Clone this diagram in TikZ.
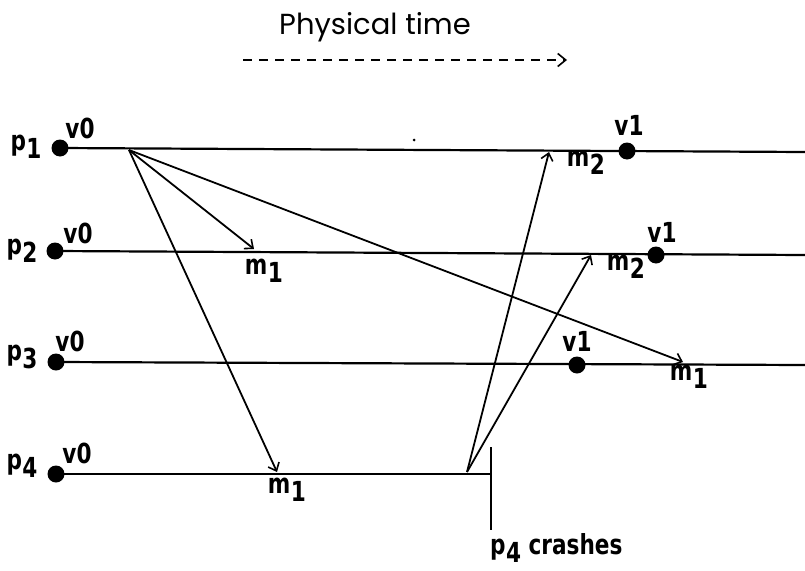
\documentclass[tikz,border=0pt]{standalone}
\usepackage{fontspec}
\usepackage{graphicx}
\setmainfont{DejaVu Sans Condensed}
\newfontfamily\titlefont{Poppins}
\usetikzlibrary{arrows.meta}
\newcommand{\lblsub}[2]{\scalebox{1}[1.15]{#1\kern0.5pt\raisebox{-7pt}{#2}}}
\newcommand{\tallt}[1]{\scalebox{1}[1.15]{#1}}
\begin{document}
\begin{tikzpicture}[x=1pt,y=-1pt,
  proc/.style={line width=2.2pt},
  msg/.style={line width=1.8pt,-{Straight Barb[length=7pt,width=12pt,line width=1.6pt]}},
  dot/.style={circle,fill=black,inner sep=0pt,minimum size=17pt},
  lbl/.style={font=\fontsize{24}{26}\selectfont\bfseries,inner sep=0pt}]
\useasboundingbox (0,0) rectangle (805,570);
% title
\node[font=\titlefont\fontsize{29}{32}\selectfont,inner sep=0pt] (title) at (375,27) {Physical time};
\coordinate (ts) at (243,60);
\coordinate (te) at (567,60);
\draw[line width=1.6pt,dash pattern=on 9pt off 7pt,-{Straight Barb[length=8pt,width=13pt,line width=1.6pt]}] (ts) -- (te);
% process dots
\node[dot] (d1) at (60,148) {};
\node[dot] (d2) at (55,251) {};
\node[dot] (d3) at (56,362) {};
\node[dot] (d4) at (56,474) {};
% line ends
\coordinate (e1) at (805,152);
\coordinate (e2) at (805,255);
\coordinate (e3) at (805,365);
\coordinate (e4) at (490,474);
\draw[proc] (d1.center) -- (e1);
\draw[proc] (d2.center) -- (e2);
\draw[proc] (d3.center) -- (e3);
\draw[proc] (d4.center) -- (e4);
% crash
\coordinate (c1) at (491,447);
\coordinate (c2) at (491,530);
\draw[proc] (c1) -- (c2);
\node[lbl,anchor=west] (crash) at (490,548) {\lblsub{p}{4} \tallt{crashes}};
% process labels
\node[lbl] (p1) at (26,147) {\lblsub{p}{1}};
\node[lbl] (p2) at (22,251) {\lblsub{p}{2}};
\node[lbl] (p3) at (22,357) {\lblsub{p}{3}};
\node[lbl] (p4) at (22,466) {\lblsub{p}{4}};
\node[lbl] (v01) at (80,128) {\tallt{v0}};
\node[lbl] (v02) at (78,233) {\tallt{v0}};
\node[lbl] (v03) at (70,341) {\tallt{v0}};
\node[lbl] (v04) at (77,453) {\tallt{v0}};
% v1 dots
\node[dot] (w1) at (627,151) {};
\node[dot] (w2) at (656,255) {};
\node[dot] (w3) at (577,365) {};
\node[lbl] (v11) at (629,125) {\tallt{v1}};
\node[lbl] (v12) at (662,232) {\tallt{v1}};
\node[lbl] (v13) at (577,341) {\tallt{v1}};
% messages
\coordinate (s1) at (129,150);
\coordinate (s4) at (467,472);
\coordinate (r2) at (254,249);
\coordinate (r3) at (683,362);
\coordinate (r4) at (277,472);
\coordinate (q1) at (549,152);
\coordinate (q2) at (591,255);
\draw[msg] (s1) -- (r2);
\draw[msg] (s1) -- (r3);
\draw[msg] (s1) -- (r4);
\draw[msg] (s4) -- (q1);
\draw[msg] (s4) -- (q2);
\node[lbl] (m12) at (264,271) {\lblsub{m}{1}};
\node[lbl] (m13) at (689,377) {\lblsub{m}{1}};
\node[lbl] (m14) at (287,490) {\lblsub{m}{1}};
\node[lbl] (m21) at (586,163) {\lblsub{m}{2}};
\node[lbl] (m22) at (626,267) {\lblsub{m}{2}};
% small speck on p1 line
\node[circle,fill=black,inner sep=0pt,minimum size=3pt] (speck) at (414,140) {};
\end{tikzpicture}
\end{document}
